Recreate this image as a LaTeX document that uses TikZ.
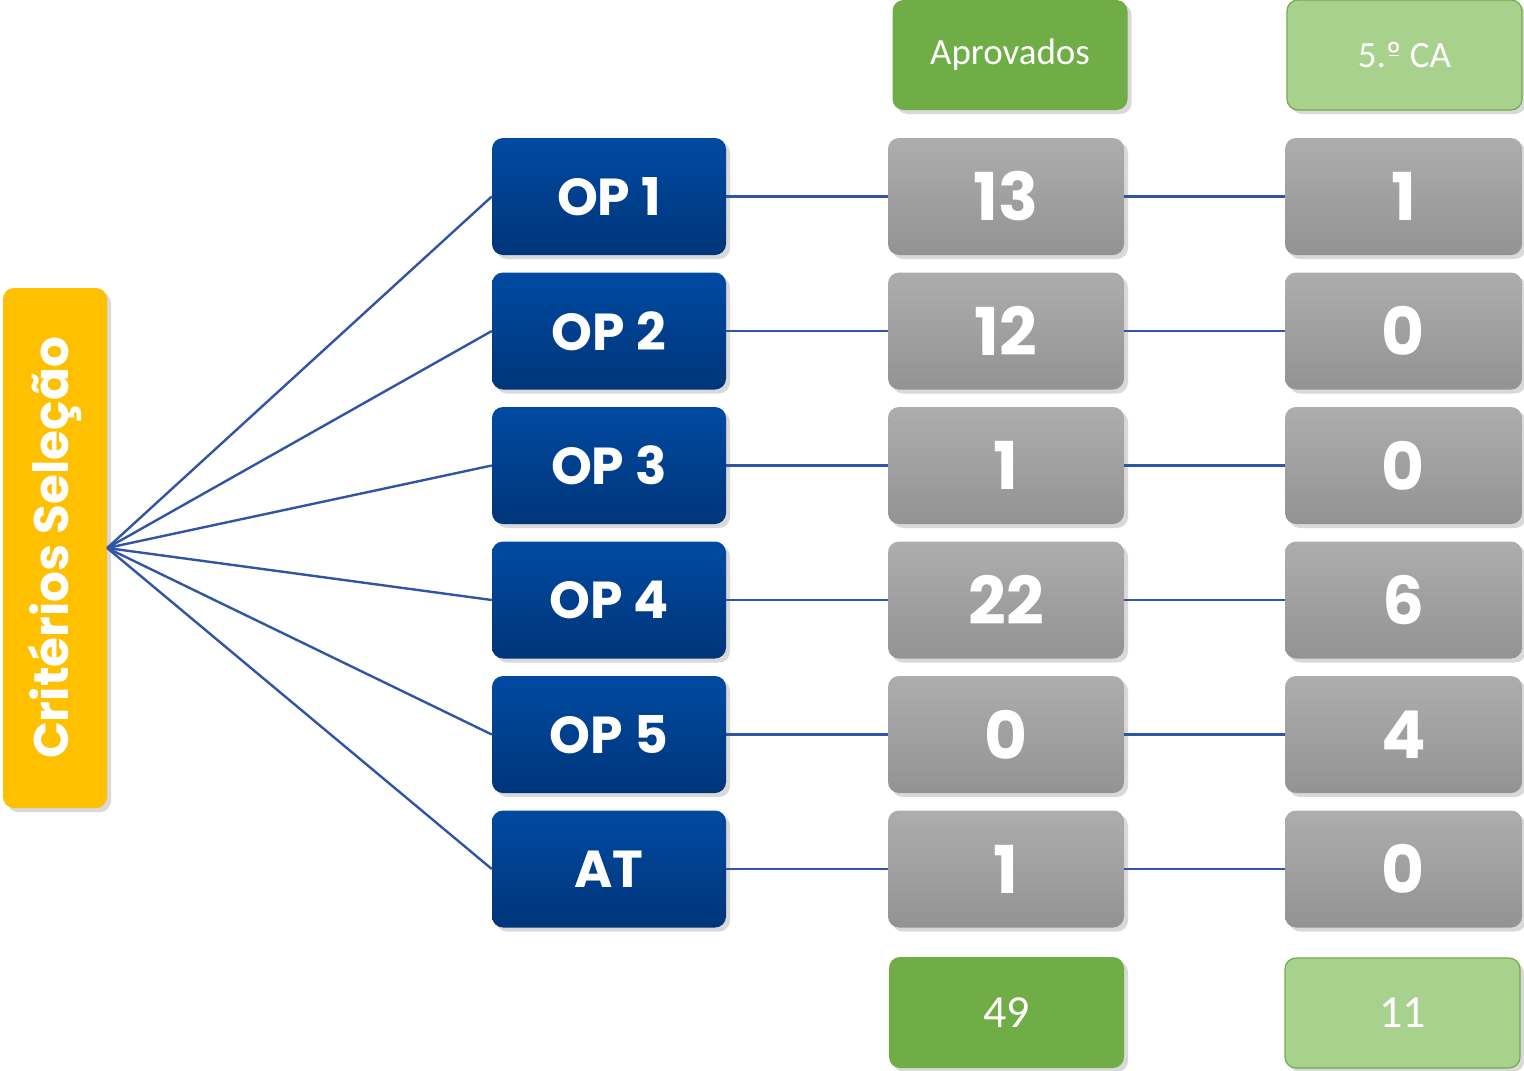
\documentclass[tikz,border=0pt]{standalone}
\usepackage{fontspec}
\setmainfont{Carlito}
\newfontfamily\boldgeo{Poppins}[UprightFont=* Bold]
\usetikzlibrary{shadows}
\definecolor{linkblue}{HTML}{2F55A4}
\definecolor{optop}{HTML}{004AA2}
\definecolor{opbot}{HTML}{003579}
\definecolor{greytop}{HTML}{ADADAD}
\definecolor{greybot}{HTML}{939393}
\definecolor{crityellow}{HTML}{FFC000}
\definecolor{darkgreen}{HTML}{70AD47}
\definecolor{lightgreen}{HTML}{A9D18E}
% ordinal indicator with a bar below it
\newcommand{\ordbar}{\ooalign{º\cr\hidewidth\rule[0.3em]{0.28em}{0.045em}\hidewidth}}
\tikzset{
  box/.style={rounded corners=11pt, inner sep=0pt, text=white,
    drop shadow={shadow xshift=4pt, shadow yshift=-4pt, opacity=0.3}},
  opbox/.style={box, minimum width=234pt, minimum height=117pt,
    top color=optop, bottom color=opbot, draw=none,
    font=\boldgeo\fontsize{52}{52}\selectfont},
  numbox/.style={box, minimum width=236pt, minimum height=117pt,
    top color=greytop, bottom color=greybot, draw=none,
    font=\boldgeo\fontsize{66}{66}\selectfont},
  headbox/.style={box, minimum width=235pt, minimum height=110pt,
    font=\fontsize{37}{37}\selectfont},
  totbox/.style={headbox, font=\fontsize{46}{46}\selectfont},
  link/.style={draw=linkblue, line width=2.4pt}
}
\begin{document}
\begin{tikzpicture}[x=1pt, y=-1pt]
\useasboundingbox (0,0) rectangle (1524,1071);

% selection criteria block
\node[box, fill=crityellow, minimum width=104pt, minimum height=520pt] (crit) at (55,548)
  {\rotatebox{90}{\boldgeo\fontsize{48.5}{48.5}\selectfont Critérios Seleção}};

% column headers
\node[headbox, fill=darkgreen] (hA) at (1010,55) {Aprovados};
\node[headbox, fill=lightgreen, draw=darkgreen, line width=1.2pt] (hB) at (1404.5,55) {5.\ordbar\ CA};

% rows
\foreach \i/\lab/\a/\b in {1/OP 1/13/1, 2/OP 2/12/0, 3/OP 3/1/0, 4/OP 4/22/6, 5/OP 5/0/4, 6/AT/1/0} {
  \pgfmathsetmacro{\yy}{196.5+134.5*(\i-1)}
  \node[opbox] (op\i) at (609,\yy) {\lab};
  \node[numbox] (a\i) at (1006,\yy) {\a};
  \node[numbox, minimum width=237pt] (b\i) at (1403.5,\yy) {\b};
}

% totals
\node[totbox, fill=darkgreen, minimum height=111pt] (tA) at (1006.5,1012.5) {49};
\node[totbox, fill=lightgreen, draw=darkgreen, line width=1.2pt] (tB) at (1402.5,1013) {11};

% connectors
\foreach \i in {1,...,6} {
  \draw[link] (crit.east) -- (op\i.west);
  \draw[link] (op\i.east) -- (a\i.west);
  \draw[link] (a\i.east) -- (b\i.west);
}
\end{tikzpicture}
\end{document}
